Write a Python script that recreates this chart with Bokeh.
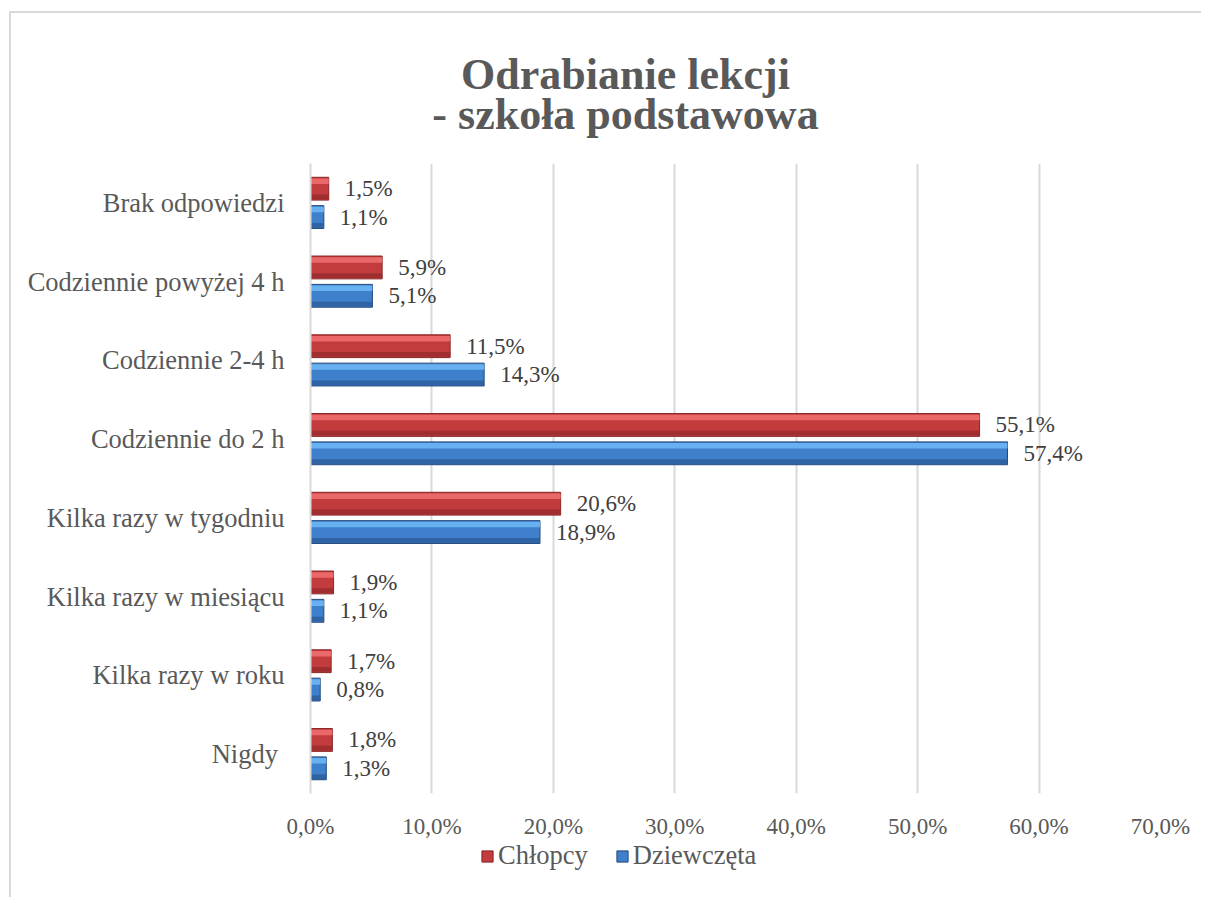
import numpy as np
from bokeh.plotting import figure
from bokeh.layouts import column
from bokeh.models import (ColumnDataSource, FactorRange, Range1d, FixedTicker, Label,
                          Legend, LegendItem)
from bokeh.transform import dodge
from bokeh.embed import file_html
from bokeh.resources import INLINE

# ---------------- data ----------------
categories = ["Nigdy ", "Kilka razy w roku", "Kilka razy w miesiącu", "Kilka razy w tygodniu",
              "Codziennie do 2 h", "Codziennie 2-4 h", "Codziennie powyżej 4 h", "Brak odpowiedzi"]
chlopcy = [1.8, 1.7, 1.9, 20.6, 55.1, 11.5, 5.9, 1.5]
dziewczeta = [1.3, 0.8, 1.1, 18.9, 57.4, 14.3, 5.1, 1.1]
series_names = ["Chłopcy", "Dziewczęta"]
x_ticks = [0, 10, 20, 30, 40, 50, 60, 70]
x_tick_labels = ["0,0%", "10,0%", "20,0%", "30,0%", "40,0%", "50,0%", "60,0%", "70,0%"]
title_lines = ["Odrabianie lekcji", "- szkoła podstawowa"]


def fmt(v):
    return f"{v:.1f}".replace(".", ",") + "%"


src = ColumnDataSource(dict(
    cat=categories,
    ch=chlopcy,
    dz=dziewczeta,
    ch_lbl=[fmt(v) for v in chlopcy],
    dz_lbl=[fmt(v) for v in dziewczeta],
))

FONT = "Liberation Serif"
W = 1190
GRAY = "#595959"

red_main, red_hi, red_lo, red_line = "#C23B3D", "#EE6E6E", "#9C2C2D", "#8A2627"
blue_main, blue_hi, blue_lo, blue_line = "#3E80CC", "#6DB6F5", "#2E5F9E", "#25497C"


def bare(fig):
    fig.outline_line_color = None
    fig.background_fill_color = "white"
    fig.border_fill_color = "white"
    fig.xgrid.visible = False
    fig.ygrid.visible = False
    return fig


# ---------------- title ----------------
pt = bare(figure(width=W, height=150, output_backend="svg", toolbar_location=None,
                 x_range=Range1d(0, 1), y_range=Range1d(0, 1),
                 x_axis_location=None, y_axis_location=None,
                 min_border=0, min_border_left=0, min_border_right=0,
                 min_border_top=0, min_border_bottom=0))
# frames of the column are aligned with the main chart frame (left edge at chart's 0 %)
pt.add_layout(Label(x=315, y=89, x_units="screen", y_units="screen",
                    text=title_lines[0], text_align="center", text_baseline="alphabetic",
                    text_font=FONT, text_font_size="44px", text_font_style="bold",
                    text_color=GRAY))
pt.add_layout(Label(x=315, y=49, x_units="screen", y_units="screen",
                    text=title_lines[1], text_align="center", text_baseline="alphabetic",
                    text_font=FONT, text_font_size="44px", text_font_style="bold",
                    text_color=GRAY))

# ---------------- main chart ----------------
p = bare(figure(width=W, height=678, output_backend="svg", toolbar_location=None,
                y_range=FactorRange(factors=categories, range_padding=0),
                x_range=Range1d(0, 70),
                min_border_left=299, min_border_right=41, min_border_top=0,
                min_border_bottom=44))

OFF = 0.18
H = 0.29

y_ch = dodge("cat", OFF, range=p.y_range)
y_dz = dodge("cat", -OFF, range=p.y_range)

r_ch = p.hbar(y=y_ch, right="ch", left=0, height=H, source=src,
              fill_color=red_main, line_color=red_line, line_width=1)
p.hbar(y=dodge("cat", OFF + 0.095, range=p.y_range), right="ch", left=0, height=0.07,
       source=src, fill_color=red_hi, line_color=None, fill_alpha=0.9)
p.hbar(y=dodge("cat", OFF - 0.105, range=p.y_range), right="ch", left=0, height=0.06,
       source=src, fill_color=red_lo, line_color=None, fill_alpha=0.9)

r_dz = p.hbar(y=y_dz, right="dz", left=0, height=H, source=src,
              fill_color=blue_main, line_color=blue_line, line_width=1)
p.hbar(y=dodge("cat", -OFF + 0.095, range=p.y_range), right="dz", left=0, height=0.07,
       source=src, fill_color=blue_hi, line_color=None, fill_alpha=0.9)
p.hbar(y=dodge("cat", -OFF - 0.105, range=p.y_range), right="dz", left=0, height=0.06,
       source=src, fill_color=blue_lo, line_color=None, fill_alpha=0.9)

# data labels
p.text(x="ch", y=y_ch, text="ch_lbl", source=src, x_offset=16, text_baseline="middle",
       text_align="left", text_font=FONT, text_font_size="23px", text_color="#404040")
p.text(x="dz", y=y_dz, text="dz_lbl", source=src, x_offset=16, text_baseline="middle",
       text_align="left", text_font=FONT, text_font_size="23px", text_color="#404040")

# axes
p.xaxis.ticker = FixedTicker(ticks=x_ticks)
p.xaxis.major_label_overrides = {t: l for t, l in zip(x_ticks, x_tick_labels)}
p.xaxis.axis_line_color = None
p.xaxis.major_tick_line_color = None
p.xaxis.minor_tick_line_color = None
p.xaxis.major_label_text_font = FONT
p.xaxis.major_label_text_font_size = "23px"
p.xaxis.major_label_text_color = GRAY
p.xaxis.major_label_standoff = 14

p.yaxis.axis_line_color = "#D9D9D9"
p.yaxis.axis_line_width = 2
p.yaxis.major_tick_line_color = None
p.yaxis.minor_tick_line_color = None
p.yaxis.major_label_text_font = FONT
p.yaxis.major_label_text_font_size = "26.5px"
p.yaxis.major_label_text_color = GRAY
p.yaxis.major_label_standoff = 20

p.xgrid.visible = True
p.xgrid.grid_line_color = "#D9D9D9"
p.xgrid.grid_line_width = 2

# ---------------- legend ----------------
pl = bare(figure(width=W, height=56, output_backend="svg", toolbar_location=None,
                 x_range=Range1d(0, 1), y_range=Range1d(0, 1),
                 x_axis_location=None, y_axis_location=None,
                 min_border=0, min_border_left=0, min_border_right=0,
                 min_border_top=0, min_border_bottom=0))
# legend proxies: no drawable data, only their swatches are shown in the legend
lsrc = ColumnDataSource(dict(y=np.array([np.nan]), r=np.array([np.nan])))
l_ch = pl.hbar(y="y", right="r", left=0, height=0.5, source=lsrc,
               fill_color=red_main, line_color=red_line)
l_dz = pl.hbar(y="y", right="r", left=0, height=0.5, source=lsrc,
               fill_color=blue_main, line_color=blue_line)
legend = Legend(items=[LegendItem(label=series_names[0], renderers=[l_ch]),
                       LegendItem(label=series_names[1], renderers=[l_dz])],
                orientation="horizontal", location=(170, 26),
                label_text_font=FONT, label_text_font_size="26.5px", label_text_color=GRAY,
                glyph_width=14, glyph_height=14, label_standoff=4, spacing=27,
                border_line_color=None, background_fill_alpha=0, padding=0, margin=0)
pl.add_layout(legend, "center")

layout = column(pt, p, pl, spacing=0)
layout.styles = {"margin-left": "9px", "margin-top": "11px",
                 "border-left": "2px solid #D9D9D9", "border-top": "2px solid #D9D9D9"}

open("out.html", "w").write(file_html(layout, INLINE))
